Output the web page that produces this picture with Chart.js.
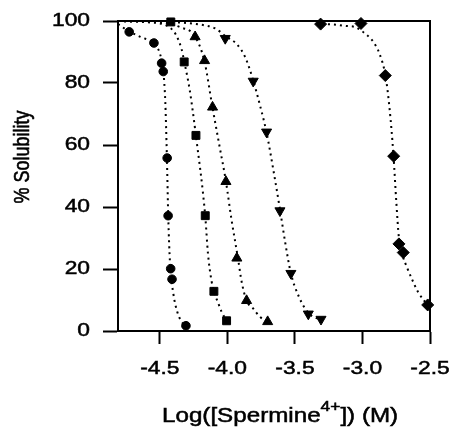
<!DOCTYPE html>
<html>
<head>
<meta charset="utf-8">
<script src="https://cdn.jsdelivr.net/npm/chart.js@4"></script>
<style>
  html, body { margin: 0; padding: 0; background: #fff; }
  canvas { display: block; }
</style>
</head>
<body>
<canvas id="grafico" width="453" height="430"></canvas>
<script>
// ---------- dados ----------
const xTicks = [-4.5, -4.0, -3.5, -3.0, -2.5];
const yTicks = [0, 20, 40, 60, 80, 100];

// pontos medidos (simbolos)
const circleX = [-4.727, -4.544, -4.487, -4.475, -4.446, -4.439, -4.42, -4.41, -4.307];
const circleY = [96.5, 92.9, 86.4, 83.7, 55.8, 37.2, 20.1, 16.7, 1.7];
const squareX = [-4.419, -4.32, -4.233, -4.164, -4.1, -4.006];
const squareY = [99.7, 86.8, 63.1, 37.2, 12.8, 3.3];
const triUpX = [-4.239, -4.169, -4.11, -4.011, -3.93, -3.858, -3.702];
const triUpY = [94.9, 87.2, 72.2, 48.2, 23.5, 9.8, 3.0];
const triDownX = [-4.016, -3.809, -3.71, -3.611, -3.53, -3.401, -3.307];
const triDownY = [94.4, 80.6, 64.2, 38.8, 18.6, 5.5, 3.8];
const diamondX = [-3.31, -3.011, -2.831, -2.769, -2.73, -2.698, -2.517];
const diamondY = [99.0, 99.2, 82.4, 56.4, 28.1, 25.3, 8.4];

// curvas pontilhadas (lidas ponto a ponto da figura)
const fitCircleX = [-4.81, -4.73, -4.64, -4.54, -4.50, -4.475, -4.46, -4.448, -4.438, -4.425, -4.40, -4.37, -4.33, -4.30];
const fitCircleY = [99, 96.7, 94.8, 92.6, 89.5, 84, 74, 56, 37, 22, 12, 6, 2.5, 1.5];
const fitSquareX = [-4.81, -4.6, -4.45, -4.38, -4.34, -4.32, -4.28, -4.233, -4.164, -4.144, -4.117, -4.10, -4.068, -4.043, -4.006];
const fitSquareY = [100, 99.6, 98.5, 95.5, 91, 87, 78, 63, 37, 25, 16, 12.8, 9, 6.2, 3.3];
const fitTriUpX = [-4.81, -4.5, -4.35, -4.24, -4.17, -4.11, -4.06, -4.01, -3.97, -3.92, -3.895, -3.858, -3.81, -3.76, -3.70];
const fitTriUpY = [100, 99.5, 98, 95, 87, 72, 60, 48, 36, 23, 16, 9.8, 7.3, 4.6, 3.0];
const fitTriDownX = [-4.81, -4.4, -4.18, -4.09, -4.01, -3.93, -3.87, -3.81, -3.76, -3.71, -3.66, -3.61, -3.57, -3.53, -3.47, -3.40, -3.35, -3.31];
const fitTriDownY = [100, 99.6, 98.7, 97.6, 95, 92.5, 88.5, 81, 73, 64, 52, 39, 28, 18.6, 11, 5.8, 4.3, 3.8];
const fitDiamondX = [-3.30, -3.22, -3.12, -3.05, -3.00, -2.96, -2.92, -2.875, -2.83, -2.80, -2.77, -2.75, -2.73, -2.70, -2.67, -2.62, -2.59, -2.52];
const fitDiamondY = [99, 98.9, 98.4, 98, 96.6, 95.2, 93.3, 89.6, 82.4, 72, 56.4, 42, 30, 24, 20.5, 15.4, 12.7, 8.4];

const FONTE = '"Liberation Sans", Arial, sans-serif';

function pares(xs, ys) {
    return xs.map((x, i) => ({ x: x, y: ys[i] }));
}

function simbolos(xs, ys, estilo, raio, rotacao) {
    return {
        data: pares(xs, ys),
        pointStyle: estilo,
        pointRadius: raio,
        pointRotation: rotacao || 0,
        pointBackgroundColor: '#000',
        pointBorderColor: '#000',
        pointBorderWidth: 1,
        showLine: false,
        clip: false
    };
}

function curva(xs, ys) {
    return {
        data: pares(xs, ys),
        showLine: true,
        pointRadius: 0,
        borderColor: '#000',
        borderWidth: 2,
        borderDash: [2, 4],
        cubicInterpolationMode: 'monotone',
        fill: false,
        clip: false
    };
}

// texto um pouco esticado na horizontal e mais grosso, como no original escaneado
function textoEsticado(ctx, texto, x, y, alinhamento, tamanho) {
    ctx.save();
    ctx.translate(x, y);
    ctx.scale(1.2, 1);
    ctx.font = tamanho + 'px ' + FONTE;
    ctx.textAlign = alinhamento;
    ctx.textBaseline = 'middle';
    ctx.fillStyle = '#000';
    ctx.strokeStyle = '#000';
    ctx.lineWidth = 0.5;
    ctx.fillText(texto, 0, 0);
    ctx.strokeText(texto, 0, 0);
    ctx.restore();
}

// ---------- moldura, rotulos e titulos ----------
const molduraPlugin = {
    id: 'moldura',
    beforeDatasetsDraw(chart) {
        const { ctx, chartArea: a } = chart;
        ctx.save();
        ctx.strokeStyle = '#000';
        ctx.lineWidth = 2;
        ctx.beginPath();
        ctx.moveTo(a.left, a.top);
        ctx.lineTo(a.right, a.top);
        ctx.lineTo(a.right, a.bottom);
        ctx.stroke();
        ctx.restore();
    },
    afterDraw(chart) {
        const ctx = chart.ctx;
        const sx = chart.scales.x;
        const sy = chart.scales.y;

        xTicks.forEach(v => textoEsticado(ctx, v.toFixed(1), sx.getPixelForValue(v), 369, 'center', 19));
        yTicks.forEach(v => textoEsticado(ctx, String(v), 90, sy.getPixelForValue(v), 'right', 19));

        ctx.save();
        ctx.fillStyle = '#000';
        ctx.strokeStyle = '#000';
        ctx.lineWidth = 0.5;

        // titulo do eixo Y
        ctx.save();
        ctx.translate(23, 157);
        ctx.rotate(-Math.PI / 2);
        ctx.scale(1, 1.2);
        ctx.font = '18px ' + FONTE;
        ctx.textAlign = 'center';
        ctx.textBaseline = 'middle';
        ctx.fillText('% Solubility', 0, 0);
        ctx.strokeText('% Solubility', 0, 0);
        ctx.restore();

        // titulo do eixo X com sobrescrito
        ctx.save();
        ctx.translate(162, 422);
        ctx.scale(1.24, 1);
        ctx.textBaseline = 'alphabetic';
        ctx.textAlign = 'left';
        let x = 0;
        const partes = [
            ['Log([Spermine', '19.5px ', 0],
            ['4+', '14px ', -11],
            [']) (M)', '19.5px ', 0]
        ];
        partes.forEach(p => {
            ctx.font = p[1] + FONTE;
            ctx.fillText(p[0], x, p[2]);
            ctx.strokeText(p[0], x, p[2]);
            x += ctx.measureText(p[0]).width;
        });
        ctx.restore();

        ctx.restore();
    }
};

new Chart(document.getElementById('grafico'), {
    type: 'scatter',
    data: {
        datasets: [
            curva(fitCircleX, fitCircleY),
            curva(fitSquareX, fitSquareY),
            curva(fitTriUpX, fitTriUpY),
            curva(fitTriDownX, fitTriDownY),
            curva(fitDiamondX, fitDiamondY),
            simbolos(circleX, circleY, 'circle', 4.3),
            simbolos(squareX, squareY, 'rect', 5.6),
            simbolos(triUpX, triUpY, 'triangle', 5.8),
            simbolos(triDownX, triDownY, 'triangle', 5.8, 180),
            simbolos(diamondX, diamondY, 'rectRot', 6)
        ]
    },
    options: {
        responsive: false,
        animation: false,
        devicePixelRatio: 1,
        layout: { padding: { top: 21, right: 23, left: 0, bottom: 0 } },
        plugins: {
            legend: { display: false },
            tooltip: { enabled: false }
        },
        scales: {
            x: {
                type: 'linear',
                min: -4.81,
                max: -2.5,
                afterBuildTicks: (s) => { s.ticks = xTicks.map(v => ({ value: v })); },
                afterFit: (s) => { s.height = 99; },
                ticks: { display: false },
                grid: { drawOnChartArea: false, tickLength: 13, tickWidth: 2, color: '#000' },
                border: { color: '#000', width: 2 }
            },
            y: {
                type: 'linear',
                min: 0,
                max: 100,
                afterBuildTicks: (s) => { s.ticks = yTicks.map(v => ({ value: v })); },
                afterFit: (s) => { s.width = 118; },
                ticks: { display: false },
                grid: { drawOnChartArea: false, tickLength: 15, tickWidth: 2, color: '#000' },
                border: { color: '#000', width: 2 }
            }
        }
    },
    plugins: [molduraPlugin]
});
</script>
</body>
</html>
